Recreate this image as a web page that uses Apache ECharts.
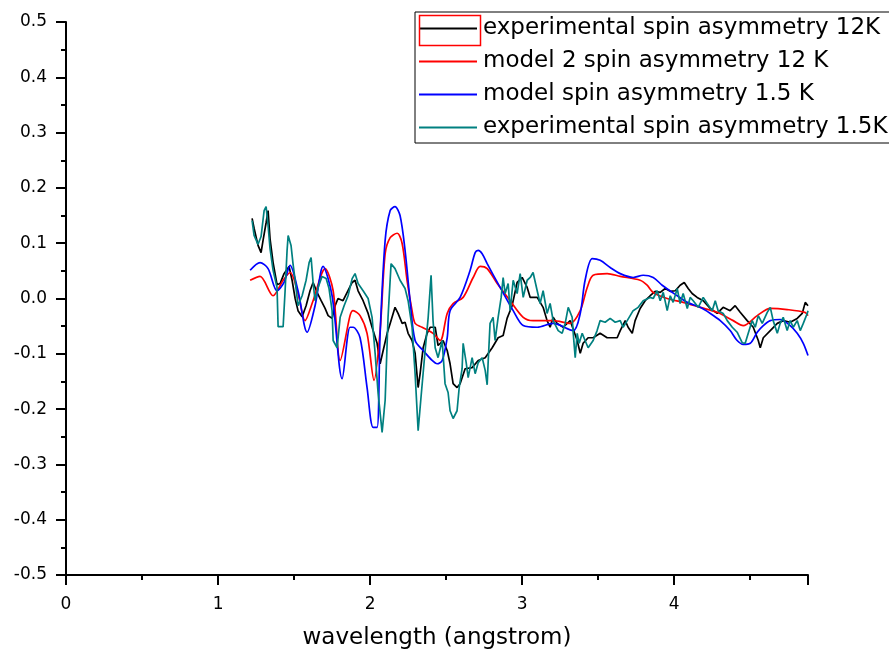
<!DOCTYPE html>
<html>
<head>
<meta charset="utf-8">
<script src="https://cdn.jsdelivr.net/npm/echarts@6/dist/echarts.min.js"></script>
<style>
  html, body { margin: 0; padding: 0; background: #fff; }
  #main { width: 889px; height: 657px; }
</style>
</head>
<body>
<div id="main"></div>
<script>
// values: [wavelength, spin asymmetry]
const exp12K = [[1.224,0.145],[1.237,0.127],[1.263,0.096],[1.283,0.083],[1.296,0.105],[1.316,0.137],[1.329,0.159],[1.342,0.108],[1.362,0.065],[1.388,0.025],[1.408,0.027],[1.434,0.045],[1.467,0.058],[1.487,0.033],[1.507,0.000],[1.526,-0.022],[1.553,-0.033],[1.579,-0.013],[1.605,0.014],[1.625,0.029],[1.651,0.011],[1.678,-0.004],[1.704,-0.018],[1.724,-0.031],[1.750,-0.036],[1.770,-0.013],[1.789,0.000],[1.822,-0.004],[1.849,0.011],[1.882,0.029],[1.901,0.033],[1.921,0.014],[1.954,-0.004],[1.987,-0.027],[2.013,-0.052],[2.046,-0.081],[2.066,-0.118],[2.086,-0.094],[2.112,-0.063],[2.132,-0.045],[2.164,-0.016],[2.184,-0.027],[2.211,-0.045],[2.230,-0.043],[2.250,-0.063],[2.276,-0.076],[2.296,-0.099],[2.316,-0.161],[2.329,-0.136],[2.349,-0.089],[2.375,-0.063],[2.395,-0.052],[2.428,-0.052],[2.447,-0.085],[2.480,-0.076],[2.507,-0.094],[2.526,-0.118],[2.546,-0.154],[2.572,-0.161],[2.592,-0.154],[2.625,-0.127],[2.671,-0.125],[2.711,-0.112],[2.757,-0.107],[2.803,-0.089],[2.842,-0.071],[2.875,-0.067],[2.901,-0.036],[2.934,-0.013],[2.967,0.029],[3.000,0.038],[3.033,0.020],[3.053,0.002],[3.099,0.002],[3.138,-0.016],[3.164,-0.040],[3.184,-0.052],[3.204,-0.034],[3.230,-0.045],[3.270,-0.052],[3.316,-0.040],[3.362,-0.076],[3.382,-0.099],[3.401,-0.081],[3.434,-0.071],[3.467,-0.071],[3.513,-0.063],[3.559,-0.071],[3.625,-0.071],[3.645,-0.058],[3.678,-0.040],[3.697,-0.052],[3.724,-0.063],[3.743,-0.040],[3.776,-0.018],[3.809,-0.004],[3.842,0.005],[3.875,0.013],[3.908,0.011],[3.941,0.018],[3.974,0.013],[4.007,0.014],[4.039,0.024],[4.066,0.029],[4.092,0.018],[4.118,0.009],[4.151,0.002],[4.191,-0.004],[4.237,-0.018],[4.283,-0.027],[4.322,-0.016],[4.368,-0.022],[4.401,-0.013],[4.434,-0.025],[4.480,-0.040],[4.520,-0.052],[4.553,-0.076],[4.566,-0.089],[4.586,-0.071],[4.632,-0.058],[4.678,-0.045],[4.717,-0.040],[4.763,-0.043],[4.809,-0.036],[4.842,-0.027],[4.862,-0.007],[4.880,-0.013]];

const model2_12K = [[1.211,0.033],[1.276,0.040],[1.362,0.005],[1.428,0.033],[1.474,0.047],[1.526,0.009],[1.572,-0.040],[1.625,-0.004],[1.704,0.054],[1.757,0.014],[1.803,-0.112],[1.868,-0.031],[1.888,-0.022],[1.934,-0.031],[1.980,-0.063],[2.026,-0.148],[2.066,-0.058],[2.099,0.081],[2.132,0.110],[2.178,0.118],[2.211,0.099],[2.243,0.033],[2.276,-0.022],[2.296,-0.045],[2.342,-0.052],[2.414,-0.063],[2.461,-0.076],[2.507,-0.027],[2.546,-0.009],[2.612,0.002],[2.678,0.038],[2.724,0.058],[2.770,0.054],[2.836,0.027],[2.921,-0.004],[3.007,-0.034],[3.072,-0.040],[3.204,-0.040],[3.316,-0.045],[3.382,-0.022],[3.428,0.020],[3.467,0.042],[3.559,0.045],[3.645,0.040],[3.776,0.033],[3.822,0.024],[3.862,0.011],[3.954,0.000],[4.059,-0.007],[4.171,-0.016],[4.283,-0.025],[4.388,-0.040],[4.454,-0.049],[4.546,-0.031],[4.632,-0.018],[4.743,-0.020],[4.860,-0.025],[4.880,-0.031]];

const model1_5K = [[1.211,0.051],[1.276,0.065],[1.329,0.054],[1.388,0.014],[1.434,0.029],[1.474,0.060],[1.526,0.014],[1.586,-0.061],[1.638,-0.013],[1.691,0.058],[1.750,0.005],[1.816,-0.145],[1.868,-0.052],[1.888,-0.052],[1.934,-0.071],[1.980,-0.161],[2.020,-0.233],[2.046,-0.233],[2.066,-0.063],[2.099,0.105],[2.132,0.159],[2.164,0.166],[2.197,0.150],[2.230,0.087],[2.263,-0.004],[2.296,-0.076],[2.349,-0.094],[2.408,-0.112],[2.441,-0.118],[2.474,-0.112],[2.507,-0.071],[2.526,-0.022],[2.592,0.002],[2.658,0.051],[2.691,0.083],[2.711,0.087],[2.737,0.081],[2.770,0.063],[2.855,0.020],[2.941,-0.022],[3.007,-0.049],[3.099,-0.052],[3.204,-0.045],[3.336,-0.058],[3.382,-0.027],[3.414,0.033],[3.461,0.072],[3.513,0.069],[3.579,0.056],[3.645,0.045],[3.730,0.038],[3.796,0.042],[3.862,0.038],[3.921,0.024],[4.020,0.005],[4.086,-0.007],[4.171,-0.016],[4.237,-0.027],[4.303,-0.040],[4.368,-0.058],[4.414,-0.076],[4.454,-0.083],[4.500,-0.081],[4.546,-0.061],[4.586,-0.049],[4.632,-0.040],[4.697,-0.038],[4.763,-0.049],[4.809,-0.063],[4.849,-0.081],[4.880,-0.103]];

const exp1_5K = [[1.224,0.141],[1.237,0.114],[1.263,0.098],[1.283,0.112],[1.303,0.159],[1.316,0.166],[1.329,0.132],[1.342,0.090],[1.362,0.051],[1.388,0.020],[1.395,-0.051],[1.428,-0.051],[1.441,0.014],[1.454,0.087],[1.461,0.114],[1.480,0.096],[1.493,0.063],[1.507,0.033],[1.526,-0.013],[1.553,0.005],[1.579,0.033],[1.599,0.065],[1.612,0.074],[1.625,0.029],[1.638,-0.004],[1.658,0.020],[1.684,0.040],[1.711,0.036],[1.730,0.018],[1.750,-0.022],[1.757,-0.076],[1.783,-0.089],[1.803,-0.034],[1.829,-0.013],[1.855,0.005],[1.882,0.036],[1.901,0.045],[1.921,0.027],[1.954,0.014],[1.987,0.000],[2.013,-0.034],[2.033,-0.099],[2.053,-0.172],[2.079,-0.242],[2.099,-0.184],[2.118,-0.034],[2.138,0.063],[2.164,0.054],[2.197,0.033],[2.230,0.018],[2.250,-0.004],[2.276,-0.052],[2.296,-0.136],[2.316,-0.239],[2.336,-0.175],[2.362,-0.094],[2.382,-0.034],[2.401,0.042],[2.414,-0.040],[2.428,-0.089],[2.447,-0.107],[2.474,-0.076],[2.493,-0.154],[2.513,-0.170],[2.526,-0.203],[2.546,-0.217],[2.572,-0.203],[2.586,-0.161],[2.605,-0.127],[2.612,-0.081],[2.632,-0.116],[2.645,-0.143],[2.671,-0.107],[2.691,-0.136],[2.711,-0.116],[2.737,-0.107],[2.757,-0.130],[2.770,-0.156],[2.776,-0.118],[2.789,-0.045],[2.809,-0.034],[2.822,-0.076],[2.842,-0.034],[2.862,0.002],[2.875,0.038],[2.888,0.009],[2.908,0.027],[2.921,-0.022],[2.941,0.033],[2.967,0.009],[2.987,0.045],[3.007,0.002],[3.033,0.033],[3.053,0.038],[3.072,0.047],[3.099,0.014],[3.118,-0.009],[3.138,0.014],[3.164,-0.027],[3.184,-0.009],[3.204,-0.040],[3.237,-0.058],[3.263,-0.063],[3.283,-0.045],[3.303,-0.016],[3.329,-0.034],[3.336,-0.063],[3.349,-0.107],[3.362,-0.063],[3.375,-0.081],[3.395,-0.063],[3.414,-0.076],[3.434,-0.089],[3.467,-0.076],[3.493,-0.058],[3.513,-0.040],[3.546,-0.043],[3.579,-0.036],[3.612,-0.043],[3.645,-0.040],[3.664,-0.052],[3.691,-0.040],[3.730,-0.022],[3.763,-0.016],[3.796,-0.004],[3.842,0.002],[3.862,0.000],[3.888,0.014],[3.908,-0.004],[3.928,0.011],[3.954,-0.022],[3.974,0.005],[3.993,-0.007],[4.020,0.018],[4.039,-0.009],[4.059,0.009],[4.086,-0.018],[4.105,0.002],[4.125,-0.004],[4.158,-0.016],[4.191,0.002],[4.217,-0.009],[4.250,-0.022],[4.270,-0.004],[4.289,-0.022],[4.322,-0.027],[4.349,-0.040],[4.382,-0.052],[4.414,-0.061],[4.447,-0.080],[4.467,-0.081],[4.487,-0.063],[4.513,-0.040],[4.533,-0.052],[4.553,-0.031],[4.579,-0.045],[4.612,-0.025],[4.632,-0.016],[4.651,-0.040],[4.678,-0.063],[4.697,-0.045],[4.717,-0.034],[4.743,-0.058],[4.763,-0.040],[4.783,-0.052],[4.809,-0.040],[4.829,-0.058],[4.849,-0.045],[4.875,-0.027],[4.880,-0.022]];

const seriesNames = [
    'experimental spin asymmetry 12K',
    'model 2 spin asymmetry 12 K',
    'model spin asymmetry 1.5 K',
    'experimental spin asymmetry 1.5K'
];
const seriesColors = ['#000000', '#ff0000', '#0000ff', '#008080'];
const seriesData = [exp12K, model2_12K, model1_5K, exp1_5K];
const seriesSmooth = [false, 0.3, 0.3, false];

const font = '"DejaVu Sans", Arial, sans-serif';

var myChart = echarts.init(document.getElementById('main'));

const axisCommon = {
    axisLine: { show: true, onZero: false, lineStyle: { color: '#000', width: 2 } },
    axisTick: { show: true, inside: false, length: 10, lineStyle: { color: '#000', width: 2 } },
    minorTick: { show: true, splitNumber: 2, length: 5, lineStyle: { color: '#000', width: 2 } },
    splitLine: { show: false },
    axisLabel: { color: '#000', fontFamily: font, fontSize: 17 }
};

myChart.setOption({
    animation: false,
    backgroundColor: '#fff',
    grid: { left: 66, right: 81, top: 22, bottom: 82, containLabel: false, outerBoundsMode: 'none' },
    legend: {
        orient: 'vertical',
        left: 415,
        top: 12,
        padding: [5, 4, 4, 4],
        icon: 'rect',
        itemWidth: 58,
        itemHeight: 2,
        itemGap: 10,
        selectedMode: false,
        borderColor: '#000',
        borderWidth: 1,
        textStyle: { color: '#000', fontFamily: font, fontSize: 23, padding: [0, 0, 0, 1] },
        data: seriesNames
    },
    xAxis: Object.assign({}, axisCommon, {
        type: 'value',
        min: 0,
        max: 4.88,
        interval: 1,
        name: 'wavelength (angstrom)',
        nameLocation: 'middle',
        nameGap: 52,
        nameTextStyle: { color: '#000', fontFamily: font, fontSize: 23 },
        axisLabel: Object.assign({}, axisCommon.axisLabel, {
            margin: 21,
            showMaxLabel: false,
            formatter: (v) => String(v)
        })
    }),
    yAxis: Object.assign({}, axisCommon, {
        type: 'value',
        min: -0.5,
        max: 0.5,
        interval: 0.1,
        axisLabel: Object.assign({}, axisCommon.axisLabel, {
            margin: 19,
            formatter: (v) => v.toFixed(1)
        })
    }),
    graphic: [{
        // red selection frame round the first legend sample, as in the original export
        type: 'rect',
        left: 417,
        top: 13,
        shape: { width: 61, height: 30 },
        style: { fill: 'none', stroke: '#ff0000', lineWidth: 1.5 },
        z: 100
    }],
    series: seriesNames.map((name, i) => ({
        name: name,
        type: 'line',
        data: seriesData[i],
        symbol: 'none',
        smooth: seriesSmooth[i],
        clip: true,
        lineStyle: { color: seriesColors[i], width: 1.7 },
        itemStyle: { color: seriesColors[i] }
    }))
});
</script>
</body>
</html>
